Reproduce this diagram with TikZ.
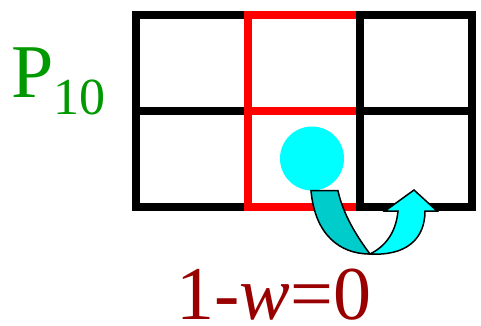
\documentclass[tikz,border=0pt]{standalone}
\usepackage{fontspec}
\setmainfont{Liberation Serif}
\definecolor{pgreen}{RGB}{0,153,0}
\definecolor{wred}{RGB}{153,0,0}
\definecolor{ballcyan}{RGB}{0,255,255}
\definecolor{turnback}{RGB}{0,204,204}
\definecolor{turnfront}{RGB}{0,255,255}

\begin{document}
\begin{tikzpicture}[x=1pt,y=-1pt,
  gridline/.style={line width=8pt,line cap=rect,line join=miter},
  turn/.style={draw=black,line width=1.5pt,line join=miter},
  bigtext/.style={font=\fontsize{76}{76}\selectfont,inner sep=0pt}]
  \useasboundingbox (0,0) rectangle (481,325);

  % black grid
  \foreach \x in {136,248,360,472}
    \draw[gridline,black] (\x,15) -- (\x,207);
  \foreach \y in {15,111,207}
    \draw[gridline,black] (136,\y) -- (472,\y);

  % red column
  \draw[gridline,red] (248,15) rectangle (360,207);
  \draw[gridline,red] (248,111) -- (360,111);
  \draw[gridline,black] (360,15) -- (360,207);

  % ball and u-turn arrow
  \node (ball) [circle,fill=ballcyan,minimum size=64pt,inner sep=0pt] at (312,158.5) {};
  \coordinate (fold) at (370,254);
  \filldraw[turn,fill=turnback] ([xshift=-1pt]ball.south)
    .. controls (315,235) and (340,254) .. (fold)
    .. controls (358,238) and (343,215) .. ([xshift=26pt]ball.south) -- cycle;
  \filldraw[turn,fill=turnfront] (fold)
    .. controls (405,256) and (425,240) .. (425,211)
    -- (437,211) -- (414,190) -- (385,211) -- (398,211)
    .. controls (396,232) and (386,246) .. (fold) -- cycle;

  % labels
  \node (plabel) [bigtext,anchor=base west,text=pgreen] at (11,97)
    {P\raisebox{-17pt}{\fontsize{52}{52}\selectfont 10}};
  \node (wlabel) [bigtext,anchor=base,text=wred] at (274,319)
    {1-\textit{w}=0};
\end{tikzpicture}
\end{document}
